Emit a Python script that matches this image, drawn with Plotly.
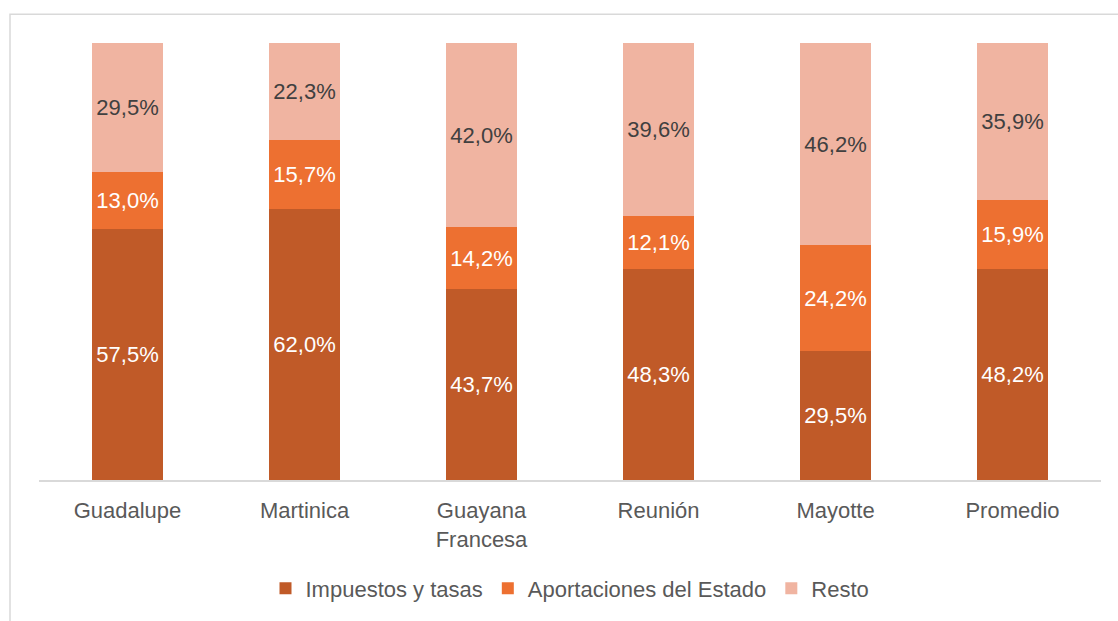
import plotly.graph_objects as go

categories = ["Guadalupe", "Martinica", "Guayana<br>Francesa", "Reunión", "Mayotte", "Promedio"]
impuestos = [57.5, 62.0, 43.7, 48.3, 29.5, 48.2]
aportaciones = [13.0, 15.7, 14.2, 12.1, 24.2, 15.9]
resto = [29.5, 22.3, 42.0, 39.6, 46.2, 35.9]

series = [
    ("Impuestos y tasas", impuestos, "#C05A28", "white"),
    ("Aportaciones del Estado", aportaciones, "#ED7031", "white"),
    ("Resto", resto, "#F0B4A1", "#404040"),
]

def fmt(v):
    return f"{v:.1f}%".replace(".", ",")

FONT = "Liberation Sans, Arial, sans-serif"

fig = go.Figure()
for name, vals, color, tcolor in series:
    fig.add_trace(go.Bar(
        name=name, x=categories, y=vals,
        marker=dict(color=color, line=dict(width=0)),
        text=[fmt(v) for v in vals], textposition="inside",
        insidetextanchor="middle", textangle=0, constraintext="none",
        textfont=dict(color=tcolor, size=22, family=FONT),
        hoverinfo="skip",
    ))

fig.update_layout(
    barmode="stack", bargap=0.6,
    width=1118, height=621,
    margin=dict(l=39, r=17, t=43, b=139),
    paper_bgcolor="white", plot_bgcolor="white",
    font=dict(family=FONT, size=22, color="#595959"),
    showlegend=True,
    legend=dict(orientation="h", x=0.5, xanchor="center", y=-0.248, yanchor="middle",
                font=dict(size=22, color="#595959"), itemwidth=30, traceorder="normal"),
    xaxis=dict(showline=True, linecolor="#D9D9D9", linewidth=1.5, ticks="",
               ticklabelstandoff=10,
               tickfont=dict(size=22, color="#595959"), showgrid=False),
    yaxis=dict(range=[0, 100], visible=False, showgrid=False),
    shapes=[dict(type="rect", xref="paper", yref="paper",
                 x0=(10 - 39) / 1062, x1=(1130 - 39) / 1062,
                 y0=(482 - 640) / 439, y1=(482 - 14) / 439,
                 line=dict(color="#D9D9D9", width=1.5), fillcolor="rgba(0,0,0,0)", layer="below")],
)

fig.write_html("out.html", config={"displayModeBar": False},
               post_script="document.body.style.margin='0';")
